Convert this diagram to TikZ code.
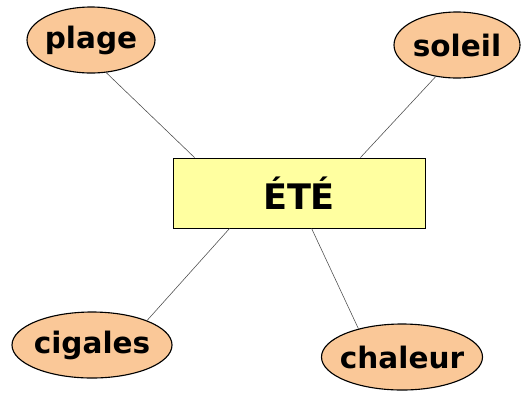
\documentclass[tikz,border=0pt]{standalone}
\usepackage{fontspec}
\setmainfont{DejaVu Sans}
\usetikzlibrary{shapes.geometric}
\definecolor{peach}{RGB}{250,200,152}
\definecolor{paleyellow}{RGB}{255,255,160}

\tikzstyle{idea}=[ellipse, draw, thick, fill=peach, inner xsep=-0.5cm, inner ysep=0pt, minimum height=1.65cm, font=\bfseries\fontsize{21}{21}\selectfont]
\tikzstyle{theme}=[rectangle, draw, semithick, fill=paleyellow, minimum width=6.3cm, minimum height=1.75cm, font=\bfseries\fontsize{25}{25}\selectfont]
\tikzstyle{link}=[draw=black!70, thin]

\begin{document}
\begin{tikzpicture}
            \useasboundingbox (0,0) rectangle (13.025,-9.8);
            \node[theme] at (7.475,-4.825) (ete) {ÉTÉ};
            \node[idea, minimum width=3.2cm] at (2.275,-1.0) (plage) {plage};
            \node[idea, minimum width=3.15cm] at (11.425,-1.125) (soleil) {soleil};
            \node[idea, minimum width=4.0cm] at (2.3,-8.625) (cigales) {cigales};
            \node[idea, minimum width=4.025cm] at (10.05,-8.925) (chaleur) {chaleur};
            \draw[link] (plage.-65) -- ([xshift=0.55cm]ete.north west);
            \draw[link] (soleil.-124) -- ([xshift=-1.625cm]ete.north east);
            \draw[link] (cigales.24) -- ([xshift=1.425cm]ete.south west);
            \draw[link] (chaleur.147) -- ([xshift=3.475cm]ete.south west);
        \end{tikzpicture}
\end{document}
